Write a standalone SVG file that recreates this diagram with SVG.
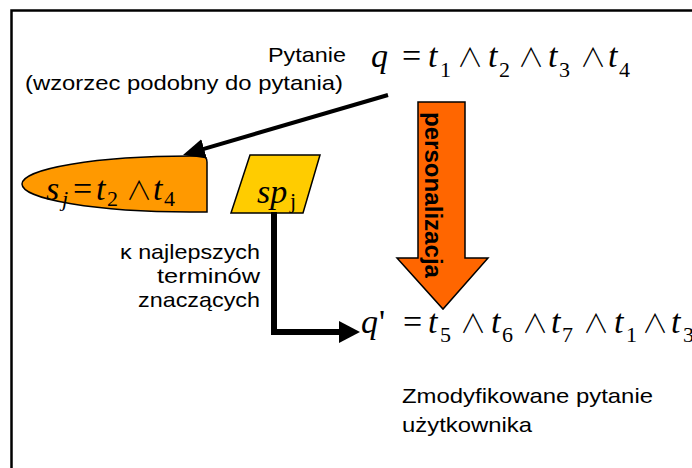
<svg xmlns="http://www.w3.org/2000/svg" width="692" height="468" viewBox="0 0 692 468">
  <style>
    .lbl { font-family: "Liberation Sans", Arial, sans-serif; font-size: 21px; fill: #000; }
    .math { font-family: "Liberation Serif", "Times New Roman", "DejaVu Serif", serif; font-size: 34px; fill: #000; }
    .math .v { font-style: italic; }
    .math .sub { font-size: 22px; }
    .math .op { font-family: "Noto Sans CJK JP", "DejaVu Sans", sans-serif; font-size: 26px; font-weight: 300; }
    .shape { stroke: #000; stroke-width: 1.5; }
    .conn { fill: none; stroke: #000; }
  </style>
  <defs>
    <marker id="headThin" markerUnits="userSpaceOnUse" markerWidth="22" markerHeight="20" viewBox="0 0 22 20" refX="10" refY="10" orient="auto">
      <path d="M0,0 L22,10 L0,20 Z" fill="#000"/>
    </marker>
    <marker id="headThick" markerUnits="userSpaceOnUse" markerWidth="21" markerHeight="22" viewBox="0 0 21 22" refX="6" refY="11" orient="auto">
      <path d="M0,0 L21,11 L0,22 Z" fill="#000"/>
    </marker>
  </defs>

  <rect width="692" height="468" fill="#fff"/>
  <!-- frame: top and left edges only, the rest runs off the page -->
  <path d="M692,10.5 L11.5,10.5 L11.5,468" fill="none" stroke="#000" stroke-width="2.5"/>

  <g id="query">
    <text class="lbl" x="346" y="62" text-anchor="end" textLength="78" lengthAdjust="spacingAndGlyphs">Pytanie</text>
    <text class="lbl" x="343" y="90" text-anchor="end" textLength="318" lengthAdjust="spacingAndGlyphs">(wzorzec podobny do pytania)</text>
    <text class="math">
      <tspan class="v" x="371" y="67">q</tspan><tspan x="402" y="67">=</tspan><tspan class="v" x="428" y="67">t</tspan><tspan class="sub" x="440" y="77">1</tspan><tspan class="op" x="457" y="67">∧</tspan><tspan class="v" x="488" y="67">t</tspan><tspan class="sub" x="499" y="77">2</tspan><tspan class="op" x="518" y="67">∧</tspan><tspan class="v" x="548" y="67">t</tspan><tspan class="sub" x="559" y="77">3</tspan><tspan class="op" x="580" y="67">∧</tspan><tspan class="v" x="608" y="67">t</tspan><tspan class="sub" x="619" y="77">4</tspan>
    </text>
  </g>

  <g id="pattern-sj">
    <path class="shape" d="M207,212 L190,212 A168,28 0 0 1 190,156 L201,156 Q207,156 207,162 Z" fill="#FF9900"/>
    <text class="math">
      <tspan class="v" x="46" y="200">s</tspan><tspan class="v sub" x="62" y="206">j</tspan><tspan x="73" y="200">=</tspan><tspan class="v" x="96" y="200">t</tspan><tspan class="sub" x="107" y="206">2</tspan><tspan class="op" x="126" y="200">∧</tspan><tspan class="v" x="153" y="200">t</tspan><tspan class="sub" x="164" y="206">4</tspan>
    </text>
  </g>

  <g id="profile-spj">
    <polygon class="shape" points="250,155 320,155 303,213 231,213" fill="#FFCC00"/>
    <text class="math">
      <tspan class="v" x="257" y="203">sp</tspan><tspan class="sub" x="290" y="208">j</tspan>
    </text>
  </g>

  <g id="top-terms">
    <text class="lbl" font-size="20" x="260" y="259" text-anchor="end" textLength="140" lengthAdjust="spacingAndGlyphs">κ najlepszych</text>
    <text class="lbl" font-size="20" x="260" y="283" text-anchor="end" textLength="103" lengthAdjust="spacingAndGlyphs">terminów</text>
    <text class="lbl" font-size="20" x="260" y="307" text-anchor="end" textLength="122" lengthAdjust="spacingAndGlyphs">znaczących</text>
  </g>

  <g id="personalization">
    <polygon class="shape" points="418,102 465,102 465,258 488,258 443,309 397,258 418,258" fill="#FF6600"/>
    <text transform="translate(425,112) rotate(90)" font-family="'Liberation Sans', Arial, sans-serif" font-weight="bold" font-size="23" textLength="166" lengthAdjust="spacingAndGlyphs">personalizacja</text>
  </g>

  <g id="modified-query">
    <text class="math">
      <tspan class="v" x="361" y="333">q</tspan><tspan x="379" y="333">'</tspan><tspan x="403" y="333">=</tspan><tspan class="v" x="428" y="333">t</tspan><tspan class="sub" x="440" y="342">5</tspan><tspan class="op" x="460" y="333">∧</tspan><tspan class="v" x="491" y="333">t</tspan><tspan class="sub" x="502" y="342">6</tspan><tspan class="op" x="522" y="333">∧</tspan><tspan class="v" x="551" y="333">t</tspan><tspan class="sub" x="562" y="342">7</tspan><tspan class="op" x="583" y="333">∧</tspan><tspan class="v" x="614" y="333">t</tspan><tspan class="sub" x="626" y="342">1</tspan><tspan class="op" x="642" y="333">∧</tspan><tspan class="v" x="671" y="333">t</tspan><tspan class="sub" x="683" y="342">3</tspan>
    </text>
    <text class="lbl" font-size="22" x="402" y="403" textLength="251" lengthAdjust="spacingAndGlyphs">Zmodyfikowane pytanie</text>
    <text class="lbl" font-size="22" x="402" y="432" textLength="130" lengthAdjust="spacingAndGlyphs">użytkownika</text>
  </g>

  <g id="connectors">
    <line class="conn" x1="388" y1="95" x2="194.5" y2="151.6" stroke-width="4" marker-end="url(#headThin)"/>
    <polyline class="conn" points="274,212 274,332 345,332" stroke-width="6" marker-end="url(#headThick)"/>
  </g>
</svg>
